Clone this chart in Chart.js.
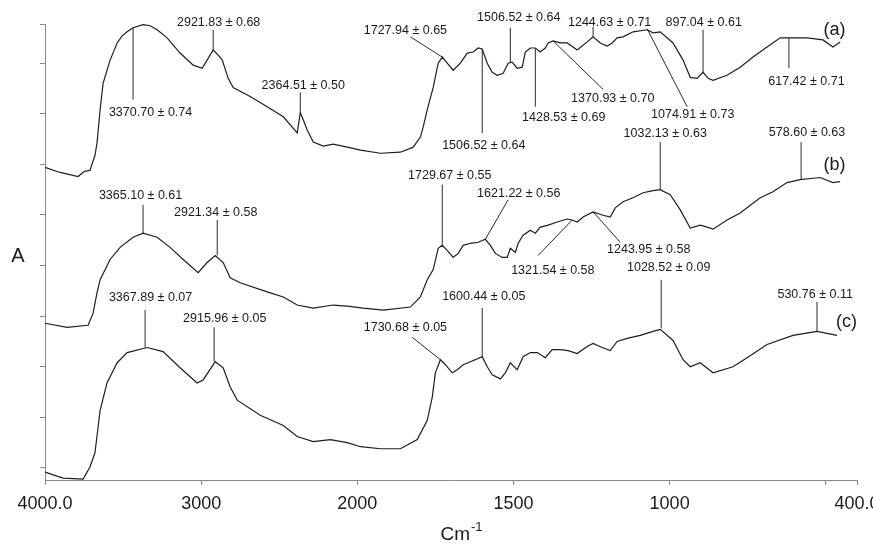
<!DOCTYPE html>
<html>
<head>
<meta charset="utf-8">
<script src="https://cdn.jsdelivr.net/npm/chart.js@4.4.1/dist/chart.umd.min.js"></script>
<style>
  html, body { margin: 0; padding: 0; background: #fff; }
</style>
</head>
<body>
<canvas id="ftirChart" width="873" height="545"></canvas>
<script>
// spectrum (a)
const wnA = [4000,3904,3788,3750,3712,3680,3667,3647,3628,3583,3538,3506,3474,3436,3372,3327,3282,3218,3135,3051,2994,2962,2923,2891,2865,2827,2795,2686,2577,2474,2385,2365,2346,2321,2282,2218,2154,2064,1990,1926,1862,1821,1798,1789,1776,1757,1741,1728,1712,1693,1670,1648,1629,1613,1600,1584,1568,1552,1533,1517,1504,1488,1472,1462,1446,1430,1414,1398,1389,1373,1350,1328,1296,1264,1245,1222,1200,1184,1168,1149,1117,1072,1053,1030,989,957,934,912,893,877,861,816,774,733,688,646,614,560,509,477,454];
const absA = [2.97,2.92,2.88,2.93,2.94,3.09,3.21,3.54,3.80,4.03,4.20,4.27,4.31,4.35,4.38,4.37,4.33,4.25,4.10,3.98,3.95,4.03,4.13,4.08,4.03,3.85,3.76,3.67,3.57,3.47,3.31,3.51,3.44,3.34,3.22,3.18,3.20,3.17,3.14,3.11,3.12,3.17,3.27,3.37,3.54,3.76,4.00,4.06,4.00,3.93,4.00,4.10,4.11,4.15,4.14,4.00,3.91,3.88,3.90,4.00,4.01,3.95,3.96,4.11,4.15,4.15,4.11,4.15,4.20,4.22,4.20,4.20,4.13,4.21,4.26,4.20,4.17,4.20,4.25,4.26,4.31,4.33,4.30,4.31,4.20,4.03,3.86,3.85,3.91,3.85,3.83,3.88,3.96,4.06,4.16,4.25,4.25,4.25,4.23,4.16,4.21];

// spectrum (b)
const wnB = [4000,3859,3724,3692,3667,3647,3583,3519,3436,3372,3282,3199,3115,3019,2962,2910,2859,2814,2750,2577,2474,2385,2282,2154,2064,1981,1917,1830,1798,1776,1757,1741,1728,1712,1693,1677,1661,1638,1613,1590,1574,1558,1536,1520,1510,1494,1485,1469,1446,1430,1414,1389,1360,1328,1312,1296,1277,1245,1216,1190,1174,1149,1117,1085,1053,1030,998,966,934,902,880,861,816,774,710,669,624,582,518,477,454];
const absB = [1.43,1.39,1.41,1.53,1.73,1.86,2.06,2.18,2.28,2.32,2.28,2.18,2.06,1.93,2.03,2.10,2.03,1.88,1.83,1.74,1.69,1.61,1.58,1.61,1.60,1.58,1.56,1.59,1.69,1.86,1.96,2.17,2.20,2.15,2.08,2.12,2.20,2.22,2.23,2.26,2.20,2.12,2.08,2.08,2.17,2.13,2.22,2.30,2.35,2.32,2.38,2.40,2.43,2.46,2.45,2.43,2.48,2.53,2.50,2.48,2.57,2.63,2.67,2.72,2.74,2.75,2.70,2.55,2.37,2.40,2.38,2.36,2.45,2.52,2.67,2.73,2.82,2.85,2.87,2.82,2.83];

// spectrum (c)
const wnC = [4000,3885,3756,3712,3680,3647,3603,3538,3474,3346,3244,3135,3026,2987,2910,2859,2814,2769,2622,2474,2385,2282,2173,2064,1990,1926,1862,1808,1776,1760,1750,1734,1718,1696,1680,1661,1638,1622,1600,1584,1568,1542,1526,1510,1488,1469,1446,1424,1398,1376,1350,1325,1296,1264,1245,1216,1190,1168,1136,1094,1053,1030,989,957,934,902,861,797,752,688,605,528,464];
const absC = [-0.04,-0.10,-0.11,0.01,0.15,0.57,0.84,1.04,1.14,1.19,1.15,0.99,0.84,0.87,1.05,0.99,0.80,0.67,0.52,0.42,0.31,0.26,0.28,0.25,0.21,0.19,0.19,0.28,0.47,0.70,0.94,1.07,1.02,0.94,0.97,1.02,1.05,1.07,1.10,1.00,0.92,0.88,0.94,1.04,0.97,1.10,1.14,1.14,1.09,1.17,1.17,1.16,1.13,1.20,1.23,1.19,1.16,1.25,1.28,1.31,1.35,1.37,1.26,1.07,1.00,1.04,0.94,1.00,1.09,1.22,1.31,1.35,1.31];

// axis ticks
const xTickValues = [4000, 3000, 2000, 1500, 1000, 500, 400];
const xTickLabels = ['4000.0', '3000', '2000', '1500', '1000', '', '400.0'];
const yTickValues = [0, 0.5, 1, 1.5, 2, 2.5, 3, 3.5, 4, 4.387];

// peak annotations: text, peak point, end of leader line, label centre (wavenumber, absorbance)
const peakText = ['3370.70 ± 0.74','2921.83 ± 0.68','2364.51 ± 0.50','1727.94 ± 0.65','1506.52 ± 0.64','1506.52 ± 0.64','1428.53 ± 0.69','1370.93 ± 0.70','1244.63 ± 0.71','897.04 ± 0.61','1074.91 ± 0.73','617.42 ± 0.71',
  '3365.10 ± 0.61','2921.34 ± 0.58','1729.67 ± 0.55','1621.22 ± 0.56','1321.54 ± 0.58','1243.95 ± 0.58','1032.13 ± 0.63','578.60 ± 0.63',
  '3367.89 ± 0.07','2915.96 ± 0.05','1600.44 ± 0.05','1730.68 ± 0.05','1028.52 ± 0.09','530.76 ± 0.11'];
const peakAt = [[3436,4.35],[2923,4.13],[2365,3.51],[1728,4.06],[1600,4.14],[1510,4.01],[1430,4.15],[1373,4.22],[1245,4.26],[893,3.91],[1072,4.34],[618,4.25],
  [3372,2.32],[2897,2.10],[1728,2.20],[1590,2.26],[1312,2.45],[1245,2.53],[1030,2.75],[579,2.85],
  [3359,1.19],[2917,1.05],[1600,1.10],[1734,1.07],[1027,1.38],[528,1.35]];
const leaderEnd = [[3436,3.64],[2923,4.33],[2365,3.71],[1830,4.26],[1600,3.31],[1510,4.35],[1430,3.57],[1213,3.74],[1245,4.36],[893,4.33],[944,3.57],[618,3.95],
  [3372,2.60],[2897,2.45],[1728,2.80],[1517,2.65],[1421,2.10],[1158,2.23],[1030,3.22],[579,3.22],
  [3359,1.56],[2917,1.39],[1600,1.58],[1824,1.29],[1027,1.86],[528,1.64]];
const labelAt = [[3324,3.51],[2888,4.40],[2346,3.78],[1846,4.32],[1595,3.19],[1483,4.45],[1339,3.46],[1182,3.65],[1192,4.40],[891,4.40],[926,3.49],[562,3.82],
  [3388,2.69],[2907,2.52],[1704,2.89],[1483,2.71],[1374,1.95],[1067,2.16],[1014,3.30],[560,3.31],
  [3324,1.68],[2849,1.48],[1595,1.69],[1846,1.39],[1003,1.98],[534,1.71]];

const seriesTags = ['(a)', '(b)', '(c)'];
const tagAt = [[472,4.33],[472,2.99],[434,1.44]];

// wavenumber axis with doubled scale below 2000 cm-1
class SplitScale extends Chart.LinearScale {
  getPixelForValue(value) {
    const u = value >= 2000 ? 4000 - value : 2000 + (2000 - value) * 2;
    return this.getPixelForDecimal(u / 5200);
  }
  getValueForPixel(pixel) {
    const u = this.getDecimalForPixel(pixel) * 5200;
    return u <= 2000 ? 4000 - u : 2000 - (u - 2000) / 2;
  }
}
SplitScale.id = 'split';
SplitScale.defaults = Chart.LinearScale.defaults;
Chart.register(SplitScale);

const toPoints = (wn, ab) => wn.map((w, i) => ({ x: w, y: ab[i] }));
const lineStyle = { borderColor: '#1e1e1e', borderWidth: 1.2, pointRadius: 0, tension: 0, fill: false };
const FONT = '"Liberation Sans", Arial, sans-serif';

const annotations = {
  id: 'annotations',
  afterDatasetsDraw(chart) {
    const { ctx, scales: { x, y }, chartArea } = chart;
    ctx.save();
    ctx.strokeStyle = '#2a2a2a';
    ctx.lineWidth = 1;
    ctx.fillStyle = '#1a1a1a';
    ctx.font = '12.5px ' + FONT;
    ctx.textAlign = 'center';
    ctx.textBaseline = 'middle';
    peakText.forEach((t, i) => {
      ctx.beginPath();
      ctx.moveTo(x.getPixelForValue(peakAt[i][0]), y.getPixelForValue(peakAt[i][1]));
      ctx.lineTo(x.getPixelForValue(leaderEnd[i][0]), y.getPixelForValue(leaderEnd[i][1]));
      ctx.stroke();
      ctx.fillText(t, x.getPixelForValue(labelAt[i][0]), y.getPixelForValue(labelAt[i][1]));
    });
    ctx.font = '18px ' + FONT;
    seriesTags.forEach((t, i) => {
      ctx.fillText(t, x.getPixelForValue(tagAt[i][0]), y.getPixelForValue(tagAt[i][1]));
    });
    // axis titles
    ctx.font = '20px ' + FONT;
    ctx.fillText('A', chartArea.left - 27, (chartArea.top + chartArea.bottom) / 2 + 4);
    const cx = (chartArea.left + chartArea.right) / 2 + 19;
    ctx.font = '19px ' + FONT;
    ctx.textAlign = 'right';
    ctx.fillText('Cm', cx, 535);
    ctx.font = '13px ' + FONT;
    ctx.textAlign = 'left';
    ctx.fillText('-1', cx + 1, 527);
    ctx.restore();
  }
};

const ctx = document.getElementById('ftirChart').getContext('2d');
new Chart(ctx, {
  type: 'line',
  data: {
    datasets: [
      { label: '(a)', data: toPoints(wnA, absA), ...lineStyle },
      { label: '(b)', data: toPoints(wnB, absB), ...lineStyle },
      { label: '(c)', data: toPoints(wnC, absC), ...lineStyle }
    ]
  },
  options: {
    responsive: false,
    animation: false,
    devicePixelRatio: 1,
    layout: { padding: { left: 0, right: 16, top: 24, bottom: 0 } },
    plugins: { legend: { display: false }, tooltip: { enabled: false } },
    scales: {
      x: {
        type: 'split',
        min: 400,
        max: 4000,
        afterBuildTicks: (scale) => { scale.ticks = xTickValues.map(v => ({ value: v })); },
        afterFit: (scale) => { scale.height = 65; scale.paddingLeft = 0; scale.paddingRight = 0; },
        ticks: {
          autoSkip: false,
          maxRotation: 0,
          padding: 8,
          color: '#1a1a1a',
          font: { family: FONT, size: 18 },
          callback: (value) => xTickLabels[xTickValues.indexOf(value)]
        },
        grid: { drawOnChartArea: false, drawTicks: true, tickLength: 5, color: '#8a8a8a' },
        border: { display: true, color: '#8a8a8a', width: 1 }
      },
      y: {
        min: -0.119,
        max: 4.387,
        afterBuildTicks: (scale) => { scale.ticks = yTickValues.map(v => ({ value: v })); },
        afterFit: (scale) => { scale.width = 45; },
        ticks: { display: false },
        grid: { drawOnChartArea: false, drawTicks: true, tickLength: 5, color: '#8a8a8a' },
        border: { display: true, color: '#8a8a8a', width: 1 }
      }
    }
  },
  plugins: [annotations]
});
</script>
</body>
</html>
